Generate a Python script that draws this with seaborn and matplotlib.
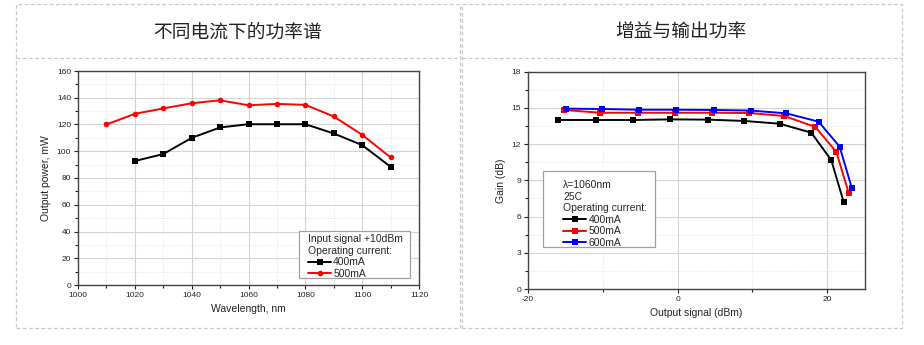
import numpy as np
import pandas as pd
import matplotlib
matplotlib.use("Agg")
import matplotlib.pyplot as plt
import seaborn as sns
from matplotlib.patches import Rectangle
from matplotlib.lines import Line2D
from matplotlib.ticker import MultipleLocator

# ---------------- data ----------------
titles = ["不同电流下的功率谱", "增益与输出功率"]

wl_400 = [1020, 1030, 1040, 1050, 1060, 1070, 1080, 1090, 1100, 1110]
pw_400 = [92.7, 97.9, 110.0, 117.8, 120.2, 120.2, 120.2, 113.3, 104.6, 88.4]
wl_500 = [1010, 1020, 1030, 1040, 1050, 1060, 1070, 1080, 1090, 1100, 1110]
pw_500 = [120.0, 128.0, 132.0, 135.9, 138.1, 134.4, 135.4, 134.7, 126.0, 112.3, 95.4]

out_400 = [-15.95, -10.97, -5.98, -0.96, 4.03, 8.92, 13.64, 17.86, 20.53, 22.18]
gain_400 = [14.0, 14.0, 14.0, 14.05, 14.03, 13.92, 13.69, 12.95, 10.68, 7.23]
out_500 = [-15.15, -10.34, -5.36, -0.38, 4.6, 9.54, 14.26, 18.4, 21.2, 22.85]
gain_500 = [14.83, 14.6, 14.6, 14.6, 14.6, 14.58, 14.33, 13.42, 11.37, 7.98]
out_600 = [-14.97, -10.08, -5.14, -0.16, 4.83, 9.77, 14.53, 18.84, 21.65, 23.29]
gain_600 = [14.94, 14.91, 14.85, 14.85, 14.83, 14.78, 14.55, 13.86, 11.79, 8.34]

left_title = "Input signal +10dBm\nOperating current:"
right_title = "λ=1060nm\n25C\nOperating current:"

df1 = pd.concat([
    pd.DataFrame({"wl": wl_400, "p": pw_400, "current": "400mA"}),
    pd.DataFrame({"wl": wl_500, "p": pw_500, "current": "500mA"}),
])
df2 = pd.concat([
    pd.DataFrame({"x": out_400, "g": gain_400, "current": "400mA"}),
    pd.DataFrame({"x": out_500, "g": gain_500, "current": "500mA"}),
    pd.DataFrame({"x": out_600, "g": gain_600, "current": "600mA"}),
])

colors = {"400mA": "#000000", "500mA": "#ff0000", "600mA": "#0000ff"}

# ---------------- style ----------------
sns.set_theme(style="white")
plt.rcParams["font.family"] = ["Liberation Sans", "DejaVu Sans"]
plt.rcParams["axes.unicode_minus"] = False

W, H = 924, 345
fig = plt.figure(figsize=(W / 100, H / 100), dpi=100)


def fx(px):
    return px / W


def fy(py):
    return 1 - py / H


# panel frames (dashed)
for (x0, x1) in [(16, 460), (462, 902)]:
    fig.add_artist(Rectangle((fx(x0), fy(328)), fx(x1 - x0), (328 - 4) / H,
                             transform=fig.transFigure, fill=False,
                             edgecolor="#c8c8c8", lw=0.9, ls=(0, (3, 2))))
    fig.add_artist(Line2D([fx(x0), fx(x1)], [fy(58), fy(58)],
                          transform=fig.transFigure, color="#c8c8c8",
                          lw=0.9, ls=(0, (3, 2))))

fig.text(fx(238), fy(32), titles[0], fontsize=13.5, ha="center", va="center",
         color="#222222", family=["Noto Sans CJK SC", "DejaVu Sans"])
fig.text(fx(681), fy(32), titles[1], fontsize=13.5, ha="center", va="center",
         color="#222222", family=["Noto Sans CJK SC", "DejaVu Sans"])

ax1 = fig.add_axes([fx(78), fy(285), fx(341), 214 / H])
ax2 = fig.add_axes([fx(528), fy(289), fx(336.7), 217.3 / H])

sns.lineplot(data=df1, x="wl", y="p", hue="current", style="current",
             markers={"400mA": "s", "500mA": "o"}, dashes=False,
             palette=colors, markersize=4, lw=1.4, markeredgewidth=0,
             legend=False, ax=ax1, sort=False)
sns.lineplot(data=df2, x="x", y="g", hue="current", style="current",
             markers={"400mA": "s", "500mA": "s", "600mA": "s"}, dashes=False,
             palette=colors, markersize=4, lw=1.4, markeredgewidth=0,
             legend=False, ax=ax2, sort=False)

ax1.set_xlim(1000, 1120)
ax1.set_ylim(0, 160)
ax1.xaxis.set_major_locator(MultipleLocator(20))
ax1.xaxis.set_minor_locator(MultipleLocator(10))
ax1.yaxis.set_major_locator(MultipleLocator(20))
ax1.yaxis.set_minor_locator(MultipleLocator(10))

ax2.set_xlim(-20, 25)
ax2.set_ylim(0, 18)
ax2.xaxis.set_major_locator(MultipleLocator(20))
ax2.xaxis.set_minor_locator(MultipleLocator(10))
ax2.yaxis.set_major_locator(MultipleLocator(3))
ax2.yaxis.set_minor_locator(MultipleLocator(1.5))

for ax in (ax1, ax2):
    ax.set_axisbelow(True)
    ax.grid(which="major", color="#d4d4d4", lw=0.8, ls="-")
    ax.grid(which="minor", color="#dcdcdc", lw=0.6, ls=":")
    ax.tick_params(which="both", direction="out", bottom=True, left=True,
                   top=False, right=False, labelsize=6, colors="#222222",
                   width=0.8, pad=2)
    ax.tick_params(which="major", length=3)
    ax.tick_params(which="minor", length=2)
    for s in ax.spines.values():
        s.set_color("#444444")
        s.set_linewidth(1.0)

ax1.set_xlabel("Wavelength, nm", fontsize=7.5, color="#222222", labelpad=4)
ax1.set_ylabel("Output power, mW", fontsize=7.5, color="#222222", labelpad=4)
ax2.set_xlabel("Output signal (dBm)", fontsize=7.5, color="#222222", labelpad=4)
ax2.set_ylabel("Gain (dB)", fontsize=7.5, color="#222222", labelpad=4)


def handles(keys, mk):
    return [Line2D([], [], color=colors[k], marker=mk[k], markersize=4,
                   markeredgewidth=0, lw=1.4) for k in keys]


# left legend
ax1.add_patch(Rectangle((0.648, 0.033), 0.326, 0.219, transform=ax1.transAxes,
                        facecolor="white", edgecolor="#a0a0a0", lw=0.9, zorder=4))
k1 = ["400mA", "500mA"]
leg1 = ax1.legend(handles(k1, {"400mA": "s", "500mA": "o"}), k1,
                  title=left_title, alignment="left", frameon=False,
                  loc="upper left", bbox_to_anchor=(0.675, 0.237),
                  borderpad=0, borderaxespad=0, fontsize=7.5, title_fontsize=7.5,
                  handlelength=2.2, handletextpad=0.2, labelspacing=0.15)
leg1.set_zorder(5)

# right legend
ax2.add_patch(Rectangle((0.0445, 0.193), 0.3325, 0.35, transform=ax2.transAxes,
                        facecolor="white", edgecolor="#a0a0a0", lw=0.9, zorder=4))
k2 = ["400mA", "500mA", "600mA"]
leg2 = ax2.legend(handles(k2, {k: "s" for k in k2}), k2,
                  title=right_title, alignment="left", frameon=False,
                  loc="upper left", bbox_to_anchor=(0.105, 0.502),
                  borderpad=0, borderaxespad=0, fontsize=7.5, title_fontsize=7.5,
                  handlelength=2.2, handletextpad=0.2, labelspacing=0.15)
leg2.set_zorder(5)

fig.savefig("out.png", dpi=100)
